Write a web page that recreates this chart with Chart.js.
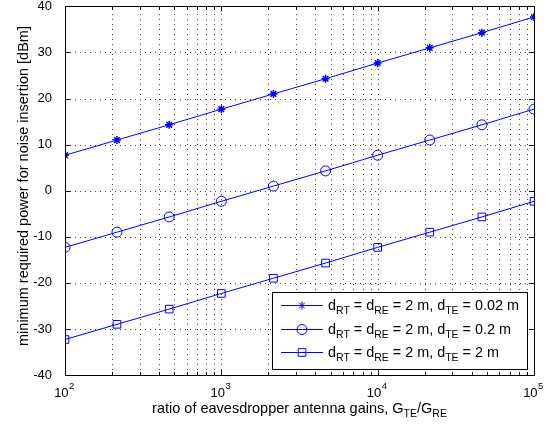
<!DOCTYPE html>
<html lang="en">
<head>
    <meta charset="UTF-8">
    <title>Noise insertion power</title>
    <script src="https://cdn.jsdelivr.net/npm/chart.js"></script>
    <style>
        body {
            margin: 0;
            padding: 0;
            background: white;
        }
        .chart-container {
            width: 554px;
            height: 428px;
        }
    </style>
</head>
<body>
    <div class="chart-container">
        <canvas id="powerChart" width="554" height="428"></canvas>
    </div>

    <script>
        // gain ratio G_TE/G_RE (log spaced samples)
        const gainRatios = [100, 215, 464, 1000, 2154, 4642, 10000, 21544, 46416, 100000];

        // minimum required power [dBm]
        const powerTE002 = [7.7, 11.0, 14.3, 17.7, 21.0, 24.3, 27.7, 31.0, 34.3, 37.7];
        const powerTE02 = [-12.3, -9.0, -5.7, -2.3, 1.0, 4.3, 7.7, 11.0, 14.3, 17.7];
        const powerTE2 = [-32.3, -29.0, -25.7, -22.3, -19.0, -15.7, -12.3, -9.0, -5.7, -2.3];

        const xGridTicks = [100, 200, 300, 400, 500, 600, 700, 800, 900,
                            1000, 2000, 3000, 4000, 5000, 6000, 7000, 8000, 9000,
                            10000, 20000, 30000, 40000, 50000, 60000, 70000, 80000, 90000, 100000];
        const xMajorTicks = [100, 1000, 10000, 100000];
        const xTickExponents = ['2', '3', '4', '5'];
        const yTicks = [-40, -30, -20, -10, 0, 10, 20, 30, 40];

        // legend text pieces: [text, isSubscript]
        const legendLabels = [
            [['d', 0], ['RT', 1], [' = d', 0], ['RE', 1], [' = 2 m, d', 0], ['TE', 1], [' = 0.02 m', 0]],
            [['d', 0], ['RT', 1], [' = d', 0], ['RE', 1], [' = 2 m, d', 0], ['TE', 1], [' = 0.2 m', 0]],
            [['d', 0], ['RT', 1], [' = d', 0], ['RE', 1], [' = 2 m, d', 0], ['TE', 1], [' = 2 m', 0]]
        ];
        const pointStyles = ['star', 'circle', 'rect'];
        const xTitle = [['ratio of eavesdropper antenna gains, G', 0], ['TE', 1], ['/G', 0], ['RE', 1]];
        const yTitle = 'minimum required power for noise insertion [dBm]';

        const BLUE = '#0000ff';
        const FONT = '"Liberation Sans", Arial, sans-serif';

        const toPoints = (ys) => gainRatios.map((x, i) => ({ x: x, y: ys[i] }));

        function makeDataset(values, style, radius) {
            return {
                data: toPoints(values),
                borderColor: BLUE,
                backgroundColor: 'rgba(0,0,0,0)',
                borderWidth: 1,
                pointStyle: style,
                pointRadius: radius,
                pointBorderColor: BLUE,
                pointBorderWidth: style === 'star' ? 1.5 : 1,
                pointBackgroundColor: 'rgba(0,0,0,0)',
                fill: false,
                tension: 0
            };
        }

        // text with subscript pieces
        function richWidth(ctx, parts, size, subSize) {
            let w = 0;
            parts.forEach(([t, sub]) => {
                ctx.font = (sub ? subSize : size) + 'px ' + FONT;
                w += ctx.measureText(t).width;
            });
            return w;
        }
        function drawRich(ctx, parts, x, y, size, subSize, subShift) {
            ctx.textAlign = 'left';
            ctx.textBaseline = 'alphabetic';
            parts.forEach(([t, sub]) => {
                ctx.font = (sub ? subSize : size) + 'px ' + FONT;
                ctx.fillText(t, x, sub ? y + subShift : y);
                x += ctx.measureText(t).width;
            });
        }

        // dotted matlab style grid, under the lines
        const dottedGrid = {
            id: 'dottedGrid',
            beforeDatasetsDraw(chart) {
                const ctx = chart.ctx;
                const a = chart.chartArea;
                const xs = chart.scales.x;
                const ys = chart.scales.y;
                ctx.save();
                ctx.strokeStyle = '#444';
                ctx.lineWidth = 1;
                ctx.setLineDash([1, 4]);
                ctx.beginPath();
                xGridTicks.forEach(v => {
                    const px = Math.round(xs.getPixelForValue(v)) + 0.5;
                    ctx.moveTo(px, a.bottom);
                    ctx.lineTo(px, a.top);
                });
                yTicks.forEach(v => {
                    const py = Math.round(ys.getPixelForValue(v)) + 0.5;
                    ctx.moveTo(a.left, py);
                    ctx.lineTo(a.right, py);
                });
                ctx.stroke();
                ctx.restore();
            }
        };

        const matlabFrame = {
            id: 'matlabFrame',
            afterDraw(chart) {
                const ctx = chart.ctx;
                const a = chart.chartArea;
                const xs = chart.scales.x;
                const ys = chart.scales.y;
                ctx.save();
                ctx.strokeStyle = '#000';
                ctx.lineWidth = 1;
                ctx.setLineDash([]);

                // inner tick marks
                ctx.beginPath();
                xGridTicks.forEach(v => {
                    const px = Math.round(xs.getPixelForValue(v)) + 0.5;
                    const len = xMajorTicks.includes(v) ? 5 : 3;
                    ctx.moveTo(px, a.bottom); ctx.lineTo(px, a.bottom - len);
                    ctx.moveTo(px, a.top); ctx.lineTo(px, a.top + len);
                });
                yTicks.forEach(v => {
                    const py = Math.round(ys.getPixelForValue(v)) + 0.5;
                    ctx.moveTo(a.left, py); ctx.lineTo(a.left + 5, py);
                    ctx.moveTo(a.right, py); ctx.lineTo(a.right - 5, py);
                });
                ctx.stroke();

                // axes box
                ctx.strokeRect(Math.round(a.left) + 0.5, Math.round(a.top) + 0.5,
                    Math.round(a.right - a.left), Math.round(a.bottom - a.top));

                // x tick labels 10^n
                ctx.fillStyle = '#000';
                xMajorTicks.forEach((v, i) => {
                    const px = xs.getPixelForValue(v);
                    ctx.font = '13px ' + FONT;
                    const wBase = ctx.measureText('10').width;
                    ctx.font = '9.5px ' + FONT;
                    const wExp = ctx.measureText(xTickExponents[i]).width;
                    const x0 = px - (wBase + wExp) / 2 - 1;
                    ctx.textAlign = 'left';
                    ctx.textBaseline = 'alphabetic';
                    ctx.font = '13px ' + FONT;
                    ctx.fillText('10', x0, a.bottom + 22);
                    ctx.font = '9.5px ' + FONT;
                    ctx.fillText(xTickExponents[i], x0 + wBase + 0.5, a.bottom + 14);
                });

                // x title
                const wT = richWidth(ctx, xTitle, 14.5, 10.5);
                drawRich(ctx, xTitle, (a.left + a.right) / 2 - wT / 2, a.bottom + 38, 14.5, 10.5, 4);

                // y title
                ctx.save();
                ctx.translate(28, 186);
                ctx.rotate(-Math.PI / 2);
                ctx.font = '14.5px ' + FONT;
                ctx.textAlign = 'center';
                ctx.textBaseline = 'alphabetic';
                ctx.fillText(yTitle, 0, 0);
                ctx.restore();

                // legend
                const lx = 272, ly = 292, lw = 255, lh = 77;
                ctx.fillStyle = '#fff';
                ctx.fillRect(lx, ly, lw, lh);
                ctx.strokeStyle = '#000';
                ctx.strokeRect(lx + 0.5, ly + 0.5, lw, lh);
                const rows = [305, 329, 352];
                chart.data.datasets.forEach((ds, i) => {
                    const yy = rows[i] + 0.5;
                    ctx.strokeStyle = BLUE;
                    ctx.lineWidth = 1;
                    ctx.beginPath();
                    ctx.moveTo(lx + 9, yy);
                    ctx.lineTo(lx + 51, yy);
                    ctx.stroke();
                    ctx.fillStyle = 'rgba(0,0,0,0)';
                    Chart.helpers.drawPoint(ctx, {
                        pointStyle: ds.pointStyle,
                        radius: ds.pointRadius,
                        borderWidth: ds.pointBorderWidth,
                        rotation: 0
                    }, lx + 30, yy);
                    ctx.fillStyle = '#000';
                    drawRich(ctx, legendLabels[i], lx + 56, rows[i] + 5, 14.4, 10.5, 4);
                });
                ctx.restore();
            }
        };

        const ctx = document.getElementById('powerChart').getContext('2d');

        const chart = new Chart(ctx, {
            type: 'line',
            data: {
                datasets: [
                    makeDataset(powerTE002, pointStyles[0], 4),
                    makeDataset(powerTE02, pointStyles[1], 5),
                    makeDataset(powerTE2, pointStyles[2], 5.4)
                ]
            },
            options: {
                responsive: false,
                animation: false,
                layout: { padding: { top: 5, right: 20, left: 0, bottom: 0 } },
                plugins: {
                    legend: { display: false },
                    tooltip: { enabled: false }
                },
                scales: {
                    x: {
                        type: 'logarithmic',
                        min: 100,
                        max: 100000,
                        afterBuildTicks: (scale) => {
                            scale.ticks = xGridTicks.map(v => ({ value: v }));
                        },
                        afterFit: (scale) => {
                            scale.height = 53;
                            scale.paddingLeft = 0;
                            scale.paddingRight = 0;
                        },
                        ticks: { display: false },
                        grid: { display: false },
                        border: { display: false }
                    },
                    y: {
                        min: -40,
                        max: 40,
                        afterBuildTicks: (scale) => {
                            scale.ticks = yTicks.map(v => ({ value: v }));
                        },
                        afterFit: (scale) => {
                            scale.width = 65;
                            scale.paddingTop = 0;
                            scale.paddingBottom = 0;
                        },
                        ticks: {
                            color: '#000',
                            padding: 5,
                            font: { family: FONT, size: 13 }
                        },
                        grid: { display: false },
                        border: { display: false }
                    }
                }
            },
            plugins: [dottedGrid, matlabFrame]
        });
    </script>
</body>
</html>
